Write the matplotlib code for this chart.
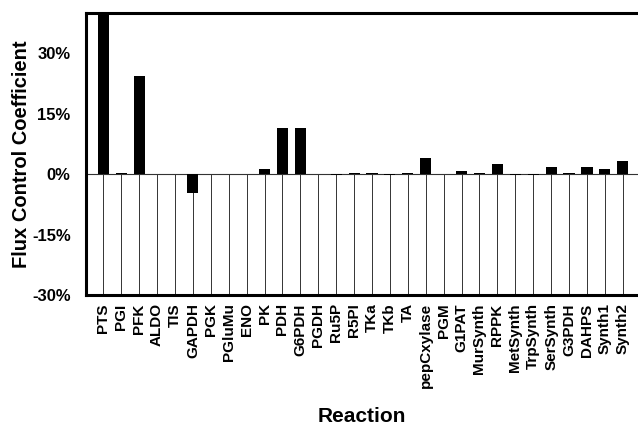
import numpy as np
import matplotlib
matplotlib.use('Agg')
import matplotlib.pyplot as plt
from matplotlib.ticker import FuncFormatter

plt.rcParams['font.family'] = ['Liberation Sans', 'DejaVu Sans']
plt.rcParams['font.weight'] = 'bold'

reactions = ['PTS', 'PGI', 'PFK', 'ALDO', 'TIS', 'GAPDH', 'PGK', 'PGluMu', 'ENO', 'PK',
             'PDH', 'G6PDH', 'PGDH', 'Ru5P', 'R5PI', 'TKa', 'TKb', 'TA', 'pepCxylase', 'PGM',
             'G1PAT', 'MurSynth', 'RPPK', 'MetSynth', 'TrpSynth', 'SerSynth', 'G3PDH', 'DAHPS',
             'Synth1', 'Synth2']
# flux control coefficients in %, PTS runs off the top of the axis
fcc = [45.0, 0.2, 24.3, 0.0, 0.0, -4.6, 0.0, 0.0, 0.0, 1.2,
       11.5, 11.5, 0.1, -0.2, 0.3, 0.2, -0.1, 0.2, 3.9, 0.1,
       0.8, 0.4, 2.6, -0.1, -0.1, 1.7, 0.4, 1.7, 1.3, 3.3]
y_ticks = [-30, -15, 0, 15, 30]

x = np.arange(len(reactions))

fig = plt.figure(figsize=(6.38, 4.25), dpi=100)
ax = fig.add_axes([86/638, 1 - 295/425, 1 - 86/638, (295 - 13)/425])

# thin drop lines below the zero line, one per reaction
ax.vlines(x, -30, 0, colors='#333333', linewidth=0.7, zorder=1)
ax.axhline(0, color='#333333', linewidth=0.8, zorder=1)
ax.bar(x, fcc, width=0.62, color='black', zorder=2)

ax.set_xlim(-0.97, 29.85)
ax.set_ylim(-30, 40)
ax.set_yticks(y_ticks)
ax.yaxis.set_major_formatter(FuncFormatter(lambda v, pos: '%d%%' % v))
ax.tick_params(axis='y', length=0, pad=11, labelsize=12)
ax.set_xticks(x)
ax.set_xticklabels(reactions, rotation=90, fontsize=11)
ax.tick_params(axis='x', length=0, pad=6)

ax.spines['right'].set_visible(False)
for s in ['left', 'top', 'bottom']:
    ax.spines[s].set_linewidth(2.2)

ax.set_ylabel('Flux Control Coefficient', fontsize=14.5, fontweight='bold', labelpad=1)
fig.text(0.5 * (86 + 638) / 638, 1 - 417/425, 'Reaction', fontsize=15, fontweight='bold',
         ha='center', va='center')

plt.savefig('out.png', dpi=100)
